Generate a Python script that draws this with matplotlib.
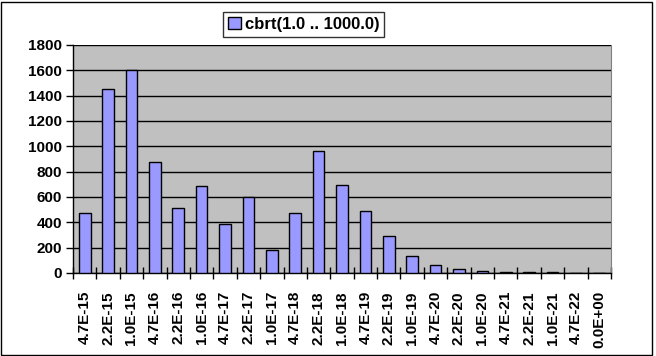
import matplotlib
matplotlib.use('Agg')
import matplotlib.pyplot as plt
from matplotlib.patches import Rectangle
import numpy as np

matplotlib.rcParams['font.family'] = ['Liberation Sans', 'DejaVu Sans']
matplotlib.rcParams['font.size'] = 11
matplotlib.rcParams['font.weight'] = 'bold'

# --- дані ---
labels = ['4.7E-15', '2.2E-15', '1.0E-15', '4.7E-16', '2.2E-16', '1.0E-16',
          '4.7E-17', '2.2E-17', '1.0E-17', '4.7E-18', '2.2E-18', '1.0E-18',
          '4.7E-19', '2.2E-19', '1.0E-19', '4.7E-20', '2.2E-20', '1.0E-20',
          '4.7E-21', '2.2E-21', '1.0E-21', '4.7E-22', '0.0E+00']
counts = [472, 1455, 1600, 878, 512, 685,
          385, 600, 178, 472, 962, 692,
          487, 292, 132, 62, 31, 15,
          5, 4, 4, 0, 3]
series_name = 'cbrt(1.0 .. 1000.0)'
yticks = [0, 200, 400, 600, 800, 1000, 1200, 1400, 1600, 1800]

W, H = 656, 356
fig = plt.figure(figsize=(W / 100, H / 100), dpi=100)
ax = fig.add_axes([73 / W, 1 - 273 / H, (611 - 73) / W, (273 - 45) / H])
ax.set_facecolor('#C0C0C0')

x = np.arange(len(labels))
ax.bar(x, counts, width=0.5, color='#9999FF', edgecolor='black', linewidth=1,
       label=series_name, zorder=3)

ax.set_xlim(-0.5, len(labels) - 0.5)
ax.set_ylim(0, 1800)
ax.set_yticks(yticks)
ax.set_yticklabels([str(v) for v in yticks], fontsize=11, fontweight='bold')
ax.yaxis.grid(True, color='black', linewidth=1, zorder=1)

# підписи по центру, риски між категоріями
ax.set_xticks(x)
ax.set_xticklabels(labels, rotation=90, fontsize=11, fontweight='bold')
ax.tick_params(axis='x', length=0, pad=13)
ax.set_xticks(np.arange(-0.5, len(labels)), minor=True)
ax.tick_params(axis='x', which='minor', length=9, direction='inout', width=1)
ax.tick_params(axis='y', length=5, direction='out', width=1, pad=3)

for side in ['left', 'bottom']:
    ax.spines[side].set_color('black')
    ax.spines[side].set_linewidth(1)
ax.spines['top'].set_visible(False)
ax.spines['right'].set_color('#808080')

leg = fig.legend(loc='upper left', bbox_to_anchor=(223 / W, 1 - 12 / H),
                 frameon=True, fancybox=False, borderpad=0.3, handlelength=0.75,
                 handleheight=0.75, handletextpad=0.25, borderaxespad=0,
                 prop={'size': 12, 'weight': 'bold'})
leg.get_frame().set_edgecolor('black')
leg.get_frame().set_linewidth(1)

fig.patches.append(Rectangle((0.5 / W, 1.5 / H), 651 / W, 353 / H,
                             transform=fig.transFigure, fill=False,
                             edgecolor='black', linewidth=1))

fig.savefig('out.png', dpi=100)
